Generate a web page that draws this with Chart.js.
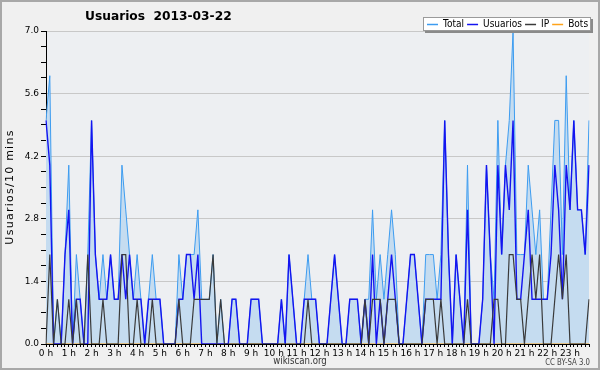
<!DOCTYPE html>
<html>
<head>
<meta charset="utf-8">
<script src="https://cdn.jsdelivr.net/npm/chart.js@4.4.1/dist/chart.umd.min.js"></script>
<style>
  html, body { margin: 0; padding: 0; background: #f0f0f0; }
  canvas { display: block; }
</style>
</head>
<body>
<canvas id="chart" width="600" height="370"></canvas>
<script>
// Valeurs toutes les 10 minutes, 2013-03-22 (une ligne = 4 heures)
const usuarios = [
  5,4,0,0,0,2,3,0,1,1,0,0,5,2,1,1,1,2,1,1,2,1,2,1,
  1,1,0,1,1,1,1,0,0,0,0,1,1,2,2,1,2,0,0,0,0,0,0,0,
  0,1,1,0,0,0,1,1,1,0,0,0,0,0,1,0,2,1,0,0,1,1,1,1,
  0,0,0,1,2,1,0,0,1,1,1,0,1,0,2,0,1,0,1,2,1,0,0,1,
  2,2,1,0,1,1,1,1,1,5,2,0,2,1,0,3,0,0,0,1,4,2,0,4,
  2,4,3,5,1,1,2,3,1,1,1,1,1,2,4,3,1,4,3,5,3,3,2,4
];
const ip = [
  0,2,0,1,0,0,1,0,1,0,0,2,0,0,0,1,0,0,0,0,2,2,0,0,
  1,0,0,0,1,0,0,0,0,0,0,1,0,0,0,1,1,1,1,1,2,0,1,0,
  0,0,0,0,0,0,0,0,0,0,0,0,0,0,0,0,0,0,0,0,0,1,0,0,
  0,0,0,0,0,0,0,0,0,0,0,0,1,0,1,1,1,0,1,1,1,0,0,0,
  0,0,0,0,1,1,1,0,1,0,0,0,0,0,0,1,0,0,0,0,0,0,1,1,
  0,0,2,2,1,1,0,1,2,1,2,0,0,0,1,2,1,2,0,0,0,0,0,1
];
const total = [
  5,6,0,1,0,2,4,0,2,1,0,2,5,2,1,2,1,2,1,1,4,3,2,1,
  2,1,0,1,2,1,1,0,0,0,0,2,1,2,2,2,3,1,1,1,2,0,1,0,
  0,1,1,0,0,0,1,1,1,0,0,0,0,0,1,0,2,1,0,0,1,2,1,1,
  0,0,0,1,2,1,0,0,1,1,1,0,1,1,3,1,2,1,2,3,2,0,0,1,
  2,2,1,0,2,2,2,1,2,5,2,0,2,1,0,4,0,0,0,1,4,2,1,5,
  2,4,5,7,2,2,2,4,3,2,3,1,1,3,5,5,2,6,3,5,3,3,2,5
];
const bots = [
  0,0,0,0,0,0,0,0,0,0,0,0,0,0,0,0,0,0,0,0,0,0,0,0,
  0,0,0,0,0,0,0,0,0,0,0,0,0,0,0,0,0,0,0,0,0,0,0,0,
  0,0,0,0,0,0,0,0,0,0,0,0,0,0,0,0,0,0,0,0,0,0,0,0,
  0,0,0,0,0,0,0,0,0,0,0,0,0,0,0,0,0,0,0,0,0,0,0,0,
  0,0,0,0,0,0,0,0,0,0,0,0,0,0,0,0,0,0,0,0,0,0,0,0,
  0,0,0,0,0,0,0,0,0,0,0,0,0,0,0,0,0,0,0,0,0,0,0,0
];
const hourLabels = ['0 h','1 h','2 h','3 h','4 h','5 h','6 h','7 h','8 h','9 h','10 h','11 h',
  '12 h','13 h','14 h','15 h','16 h','17 h','18 h','19 h','20 h','21 h','22 h','23 h'];
const yLabels = ['0.0','1.4','2.8','4.2','5.6','7.0'];

// créneaux de 10 minutes
const slots = [];
hourLabels.forEach((h, i) => {
  for (let m = 0; m < 60; m += 10) slots.push(i + ':' + String(m).padStart(2, '0'));
});

const FONT = "'DejaVu Sans', sans-serif";
const isMajor = v => Math.abs(v / 1.4 - Math.round(v / 1.4)) < 1e-6;

const series = [
  { label: 'Total',    data: total,    color: '#3d9cf0' },
  { label: 'Usuarios', data: usuarios, color: '#1414f0' },
  { label: 'IP',       data: ip,       color: '#3a3a3a' },
  { label: 'Bots',     data: bots,     color: '#ffa31a' }
];

// texte étroit : on comprime horizontalement (police condensée absente)
function narrowText(ctx, txt, x, y, k, align) {
  const w = ctx.measureText(txt).width * k;
  let x0 = x;
  if (align === 'center') x0 = x - w / 2;
  else if (align === 'right') x0 = x - w;
  ctx.save();
  ctx.textAlign = 'left';
  ctx.translate(x0, y);
  ctx.scale(k, 1);
  ctx.fillText(txt, 0, 0);
  ctx.restore();
  return w;
}

const decor = {
  id: 'decor',
  beforeDraw(chart) {
    const { ctx, chartArea: a } = chart;
    ctx.save();
    ctx.fillStyle = '#f0f0f0';
    ctx.fillRect(0, 0, 600, 370);
    ctx.fillStyle = '#edeff2';
    ctx.fillRect(a.left, a.top, a.right - a.left, a.bottom - a.top);
    ctx.strokeStyle = '#a8a8a8';
    ctx.lineWidth = 2;
    ctx.strokeRect(1, 1, 598, 368);
    ctx.restore();
  },
  afterDraw(chart) {
    const ctx = chart.ctx;
    ctx.save();
    ctx.textBaseline = 'middle';
    // titre
    ctx.fillStyle = '#000';
    ctx.font = 'bold 13px ' + FONT;
    narrowText(ctx, 'Usuarios  2013-03-22', 85, 17, 0.94, 'left');

    // titre axe y
    ctx.font = '11px ' + FONT;
    const yt = 'Usuarios/10 mins';
    const w0 = ctx.measureText(yt).width;
    ctx.save();
    ctx.translate(10, 187);
    ctx.rotate(-Math.PI / 2);
    ctx.letterSpacing = Math.max(0, (114 - w0) / (yt.length - 1)) + 'px';
    ctx.textAlign = 'center';
    ctx.fillText(yt, 0, 0);
    ctx.restore();

    // légende
    ctx.fillStyle = '#8a8a8a';
    ctx.fillRect(425, 19, 168, 14);
    ctx.fillStyle = '#fff';
    ctx.fillRect(423, 17, 168, 14);
    ctx.strokeStyle = '#9a9a9a';
    ctx.lineWidth = 1;
    ctx.strokeRect(423.5, 17.5, 167, 13);
    ctx.font = '11px ' + FONT;
    let x = 427;
    series.forEach(s => {
      ctx.strokeStyle = s.color;
      ctx.lineWidth = 1.5;
      ctx.beginPath();
      ctx.moveTo(x, 24.5);
      ctx.lineTo(x + 11, 24.5);
      ctx.stroke();
      x += 16;
      ctx.fillStyle = '#000';
      x += narrowText(ctx, s.label, x, 24.5, 0.82, 'left') + 3;
    });

    // pied
    ctx.fillStyle = '#333';
    ctx.font = '10px ' + FONT;
    narrowText(ctx, 'wikiscan.org', 300, 361, 0.86, 'center');
    ctx.font = '8px ' + FONT;
    ctx.fillStyle = '#444';
    narrowText(ctx, 'CC BY-SA 3.0', 590, 363, 0.87, 'right');
    ctx.restore();
  }
};

new Chart(document.getElementById('chart'), {
  type: 'line',
  data: {
    labels: slots,
    datasets: series.map((s, i) => ({
      label: s.label,
      data: s.data,
      borderColor: s.color,
      borderWidth: i === 0 ? 1 : (i === 1 ? 1.4 : 1.2),
      backgroundColor: i === 0 ? '#c5dcf0' : s.color,
      fill: i === 0 ? 'origin' : false,
      pointRadius: 0,
      tension: 0,
      order: [4, 2, 1, 3][i]
    }))
  },
  options: {
    responsive: false,
    animation: false,
    devicePixelRatio: 1,
    layout: { padding: { left: 0, right: 11, top: 31, bottom: 0 } },
    plugins: { legend: { display: false }, tooltip: { enabled: false } },
    scales: {
      x: {
        type: 'category',
        offset: false,
        z: 1,
        afterFit: s => { s.height = 26; },
        border: { color: '#000', width: 1 },
        grid: { drawOnChartArea: false, tickColor: '#000', tickLength: 3 },
        ticks: {
          autoSkip: false, maxRotation: 0, minRotation: 0, padding: 1,
          color: '#000', font: { size: 9, family: FONT },
          callback: (v, i) => (i % 6 === 0 ? hourLabels[i / 6] : '')
        }
      },
      y: {
        min: 0, max: 7,
        afterFit: s => { s.width = 46; },
        border: { color: '#000', width: 1 },
        grid: {
          color: c => (c.tick && c.tick.value > 0 && isMajor(c.tick.value)) ? '#c8c8c8' : 'rgba(0,0,0,0)',
          tickColor: '#000', tickLength: 5
        },
        ticks: {
          stepSize: 0.35, autoSkip: false, padding: 2,
          color: '#000', font: { size: 9, family: FONT },
          callback: v => (isMajor(v) ? yLabels[Math.round(v / 1.4)] : '')
        }
      }
    }
  },
  plugins: [decor]
});
</script>
</body>
</html>
